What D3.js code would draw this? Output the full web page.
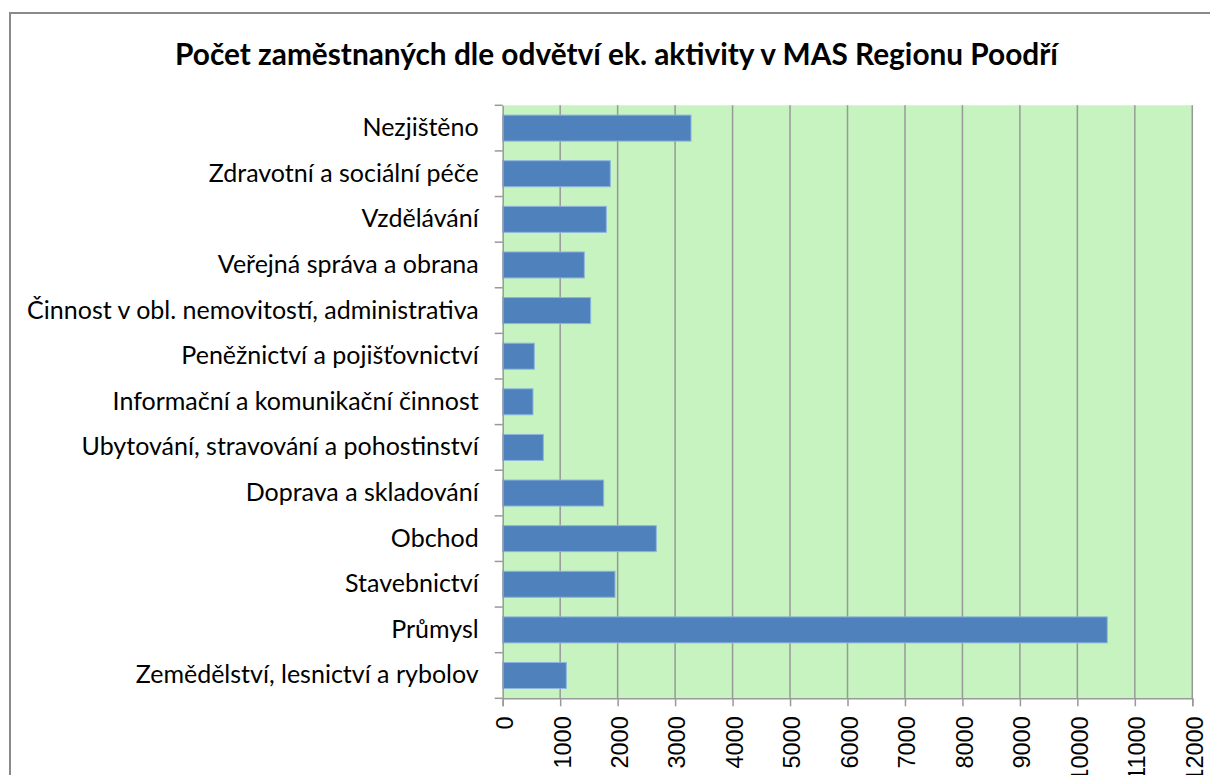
<!DOCTYPE html>
<html><head><meta charset="utf-8">
<script src="https://cdn.jsdelivr.net/npm/d3@7"></script>
<style>body{margin:0;background:#fff;overflow:hidden}</style>
</head><body>
<script>
const categories = [
  "Nezjištěno",
  "Zdravotní a sociální péče",
  "Vzdělávání",
  "Veřejná správa a obrana",
  "Činnost v obl. nemovitostí, administrativa",
  "Peněžnictví a pojišťovnictví",
  "Informační a komunikační činnost",
  "Ubytování, stravování a pohostinství",
  "Doprava a skladování",
  "Obchod",
  "Stavebnictví",
  "Průmysl",
  "Zemědělství, lesnictví a rybolov"
];
const values = [3277, 1872, 1803, 1420, 1531, 550, 527, 707, 1757, 2673, 1954, 10520, 1107];
const tickValues = [0,1000,2000,3000,4000,5000,6000,7000,8000,9000,10000,11000,12000];
const title = "Počet zaměstnaných dle odvětví ek. aktivity v MAS Regionu Poodří";

const W = 1210, H = 775;
const svg = d3.select("body").append("svg").attr("width", W).attr("height", H);

// chart border
svg.append("rect").attr("x", 10).attr("y", 13).attr("width", 1300).attr("height", 900)
  .attr("fill", "#fff").attr("stroke", "#8a8a8a").attr("stroke-width", 2);

const pLeft = 502.7, pRight = 1192.3, pTop = 105.3, pBottom = 698.3;
const x = d3.scaleLinear().domain([0, 12000]).range([pLeft, pRight]);
const y = d3.scaleBand().domain(categories).range([pTop, pBottom]).paddingInner(0.43).paddingOuter(0.215);
const yb = d3.scaleBand().domain(categories).range([pTop, pBottom]);

svg.append("rect").attr("x", pLeft).attr("y", pTop).attr("width", pRight - pLeft).attr("height", pBottom - pTop)
  .attr("fill", "#C6F3BF");

// gridlines
svg.append("g").selectAll("line").data(tickValues.slice(1)).join("line")
  .attr("x1", d => x(d)).attr("x2", d => x(d)).attr("y1", pTop).attr("y2", pBottom)
  .attr("stroke", "#999").attr("stroke-width", 1.5);

// bars
svg.append("g").selectAll("rect").data(values).join("rect")
  .attr("x", pLeft).attr("y", (d, i) => y(categories[i]))
  .attr("width", d => x(d) - pLeft).attr("height", y.bandwidth())
  .attr("fill", "#4F81BD").attr("stroke", "#8FB4DE").attr("stroke-width", 1);

// y axis
const yAxis = d3.axisLeft(yb).tickSize(0).tickPadding(24);
const gy = svg.append("g").attr("transform", `translate(${pLeft},0)`).call(yAxis);
gy.select(".domain").attr("stroke", "#999").attr("stroke-width", 1.5);
gy.selectAll("text").attr("font-family", "Lato, 'Open Sans', sans-serif").attr("font-size", 25).attr("fill", "#000");
// y tick marks at band boundaries
const bounds = categories.map(c => yb(c)).concat([pBottom]);
svg.append("g").selectAll("line").data(bounds).join("line")
  .attr("x1", pLeft - 8).attr("x2", pLeft).attr("y1", d => d).attr("y2", d => d)
  .attr("stroke", "#999").attr("stroke-width", 1.5);

// x axis
const xAxis = d3.axisBottom(x).tickValues(tickValues).tickSize(8).tickPadding(8).tickFormat(d3.format("d"));
const gx = svg.append("g").attr("transform", `translate(0,${pBottom})`).call(xAxis);
gx.select(".domain").attr("stroke", "#999").attr("stroke-width", 1.5);
gx.selectAll(".tick line").attr("stroke", "#999").attr("stroke-width", 1.5);
gx.selectAll("text").attr("font-family", "'Liberation Sans', Arial, sans-serif").attr("font-size", 23.5).attr("fill", "#000")
  .attr("transform", "rotate(-90)").attr("text-anchor", "end").attr("dx", "-18").attr("dy", "0.42em")
  .attr("y", 0).attr("x", 0);

// title
svg.append("text").attr("x", 616.5).attr("y", 65).attr("text-anchor", "middle")
  .attr("font-family", "Lato, 'Open Sans', sans-serif").attr("font-weight", "bold").attr("font-size", 29.8)
  .attr("fill", "#000").text(title);
</script>
</body></html>
